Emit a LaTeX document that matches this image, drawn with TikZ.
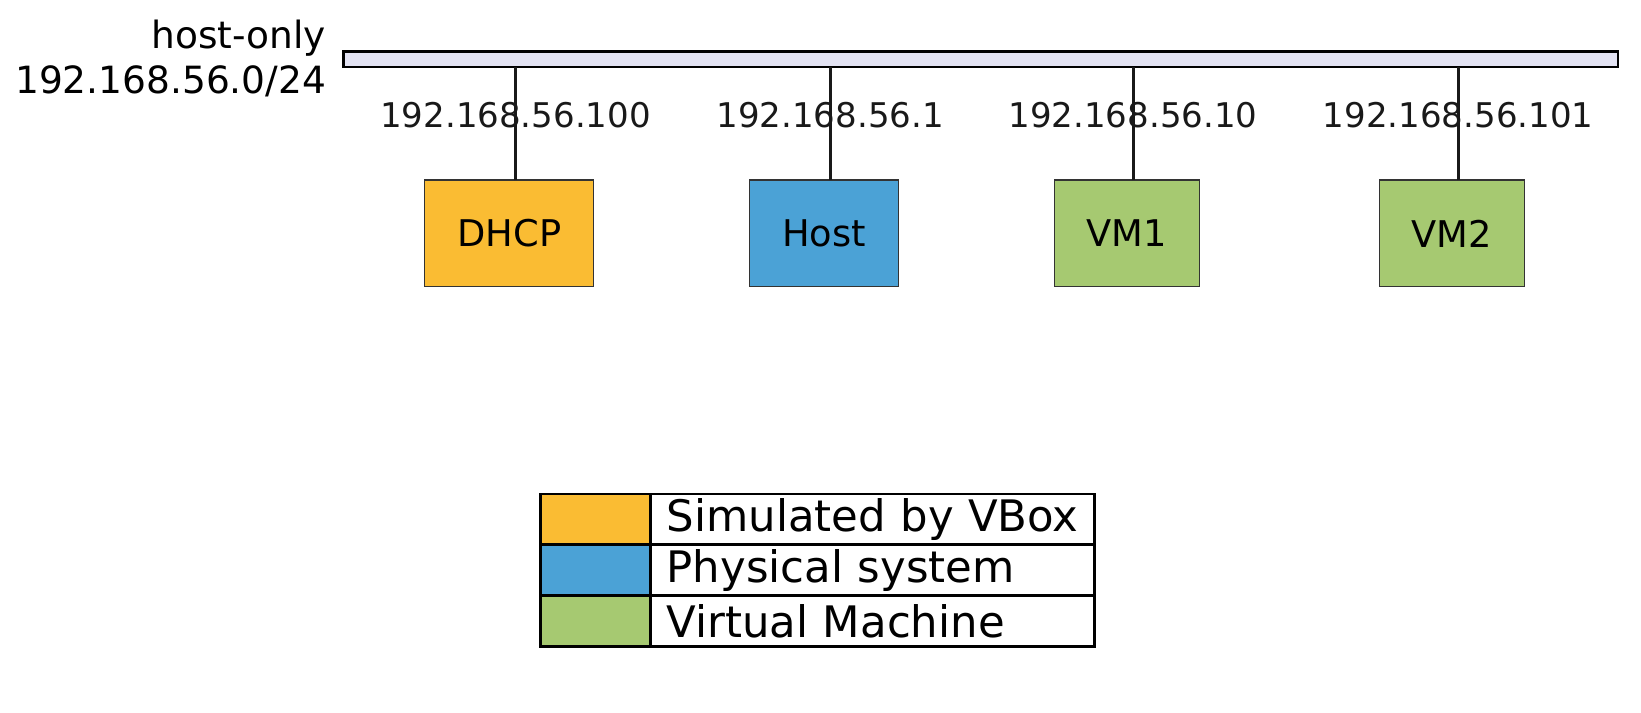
\documentclass[tikz,border=0pt]{standalone}
\usepackage{fontspec}
\setmainfont{DejaVu Sans}
\usetikzlibrary{positioning}
\definecolor{busfill}{RGB}{226,226,242}
\definecolor{vboxcol}{RGB}{250,188,51}
\definecolor{physcol}{RGB}{75,162,214}
\definecolor{vmcol}{RGB}{166,201,113}
\tikzstyle{bus}=[rectangle,draw,line width=1.5pt,fill=busfill,minimum width=24.36cm,
minimum height=0.3cm,inner sep=0pt,outer sep=0pt]
\tikzstyle{block}=[rectangle,draw=black!80,line width=0.6pt,inner xsep=0.62cm,
minimum height=2.04cm,outer sep=0pt,font=\fontsize{20}{24}\selectfont]
\tikzstyle{line} = [draw, line width=1.6pt, color=black!90]
\tikzstyle{addr}=[font=\fontsize{18.5}{22}\selectfont,inner sep=0pt]
\tikzstyle{swatch}=[rectangle,draw,line width=1.6pt,minimum width=2.12cm,
minimum height=0.973cm,inner sep=0pt,outer sep=0pt]
\tikzstyle{legtext}=[rectangle,draw,line width=1.6pt,text width=7.88cm,
minimum height=0.973cm,inner xsep=0.3cm,inner ysep=0pt,outer sep=0pt,
font=\fontsize{23.6}{28}\selectfont]

\begin{document}
\begin{tikzpicture}
\useasboundingbox (0,0) rectangle (31.36,-13.61);
% network
\node [bus] (bus) at (18.74,-1.13) {};
\node [anchor=east,align=right,font=\fontsize{20.4}{24.4}\selectfont,inner sep=0pt]
  (netname) at (6.24,-1.12) {host-only\\192.168.56.0/24};
% machines
\node [block,fill=vboxcol,anchor=north west] (dhcp) at (8.12,-3.44) {DHCP};
\node [block,fill=physcol,right=2.98cm of dhcp] (host) {Host};
\node [block,fill=vmcol,right=2.98cm of host] (vm1) {VM1};
\node [block,fill=vmcol,right=3.44cm of vm1] (vm2) {VM2};
\path [line] ([xshift=0.12cm]dhcp.north) -- node[addr,pos=0.57] (ipdhcp) {192.168.56.100} ([xshift=0.12cm]dhcp.north |- bus.south);
\path [line] ([xshift=0.12cm]host.north) -- node[addr,pos=0.57] (iphost) {192.168.56.1} ([xshift=0.12cm]host.north |- bus.south);
\path [line] ([xshift=0.12cm]vm1.north) -- node[addr,pos=0.57] (ipvm1) {192.168.56.10} ([xshift=0.12cm]vm1.north |- bus.south);
\path [line] ([xshift=0.12cm]vm2.north) -- node[addr,pos=0.57] (ipvm2) {192.168.56.101} ([xshift=0.12cm]vm2.north |- bus.south);
% legend
\node [swatch,fill=vboxcol,anchor=north west] (keyvbox) at (10.32,-9.44) {};
\node [legtext,right=0pt of keyvbox] (txtvbox) {Simulated by VBox};
\node [swatch,fill=physcol,below=0pt of keyvbox] (keyphys) {};
\node [legtext,right=0pt of keyphys] (txtphys) {Physical system};
\node [swatch,fill=vmcol,below=0pt of keyphys] (keyvm) {};
\node [legtext,right=0pt of keyvm] (txtvm) {Virtual Machine};
\end{tikzpicture}
\end{document}
